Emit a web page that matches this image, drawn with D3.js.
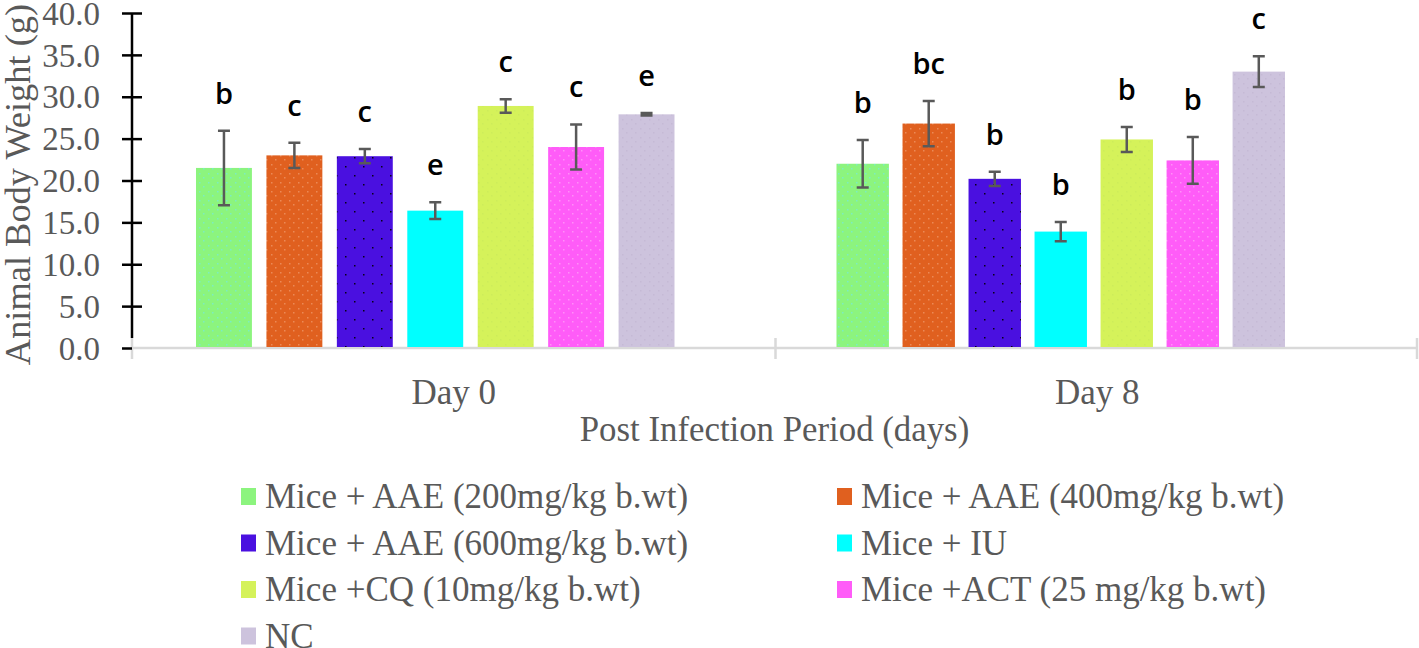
<!DOCTYPE html>
<html>
<head>
<meta charset="utf-8">
<script src="https://cdn.jsdelivr.net/npm/d3@7"></script>
<style>
  body { margin: 0; background: #fff; }
  svg { display: block; }
</style>
</head>
<body>
<div id="chart"></div>
<script>
// data
const days = ["Day 0", "Day 8"];
const groups = [
  "Mice + AAE (200mg/kg b.wt)",
  "Mice + AAE (400mg/kg b.wt)",
  "Mice + AAE (600mg/kg b.wt)",
  "Mice + IU",
  "Mice +CQ (10mg/kg b.wt)",
  "Mice +ACT (25 mg/kg b.wt)",
  "NC"
];
const colors = ["#8cf47e", "#e0601f", "#4a10e0", "#00ffff", "#d5f25a", "#ff5cf8", "#cdc3dd"];
const dotColors = ["#6fe8f0", "#f3a57a", "#000000", null, "#c8e85a", "#ffb0f8", "#bfb4d0"];
const day0 = [21.5, 23.0, 22.9, 16.4, 28.9, 24.0, 27.9];
const err0 = [4.45, 1.5, 0.85, 1.0, 0.8, 2.7, 0.15];
const sig0 = ["b", "c", "c", "e", "c", "c", "e"];
const day8 = [22.0, 26.8, 20.2, 13.9, 24.9, 22.4, 33.0];
const err8 = [2.85, 2.7, 0.85, 1.15, 1.5, 2.8, 1.85];
const sig8 = ["b", "bc", "b", "b", "b", "b", "c"];
const yTicks = [0, 5, 10, 15, 20, 25, 30, 35, 40];

const width = 1419, height = 648;
const serif = "'Liberation Serif', 'Times New Roman', serif";
const grey = "#595959";

const rows = [];
days.forEach((day, di) => {
  const vals = di === 0 ? day0 : day8;
  const errs = di === 0 ? err0 : err8;
  const sigs = di === 0 ? sig0 : sig8;
  groups.forEach((g, gi) => {
    rows.push({ day, di, group: g, gi, value: vals[gi], err: errs[gi], sig: sigs[gi] });
  });
});

const svg = d3.select("#chart").append("svg")
  .attr("width", width)
  .attr("height", height);

// dotted fills like the source bars
const defs = svg.append("defs");
colors.forEach((c, i) => {
  const sparse = i === 2;
  const size = sparse ? 18 : 9;
  const p = defs.append("pattern")
    .attr("id", "fill" + i)
    .attr("patternUnits", "userSpaceOnUse")
    .attr("width", size).attr("height", size);
  p.append("rect").attr("width", size).attr("height", size).attr("fill", c);
  if (dotColors[i]) {
    const pts = sparse ? [[3, 4], [12, 13]] : [[1, 2], [5, 6]];
    pts.forEach(([px, py]) => {
      p.append("rect")
        .attr("x", px).attr("y", py)
        .attr("width", 1.5).attr("height", 1.5)
        .attr("fill", dotColors[i])
        .attr("opacity", sparse ? 0.9 : 0.6);
    });
  }
});

const plotLeft = 132, plotRight = 1419, plotTop = 13, plotBottom = 348;

const y = d3.scaleLinear().domain([0, 40]).range([plotBottom, plotTop]);
const x0 = d3.scaleBand().domain(days).range([plotLeft, plotRight]);

// each day's bar group sits a little left of centre, as in the source
const groupInset = { "Day 0": [64, 101], "Day 8": [61, 134] };
const x1 = {};
days.forEach((d) => {
  const start = x0(d) + groupInset[d][0];
  const end = x0(d) + x0.bandwidth() - groupInset[d][1];
  x1[d] = d3.scaleBand().domain(groups).range([start, end]).paddingInner(0.206);
});

// x axis line + boundary ticks
const xAxis = svg.append("g");
xAxis.append("line")
  .attr("x1", plotLeft).attr("x2", plotRight - 1)
  .attr("y1", plotBottom).attr("y2", plotBottom)
  .attr("stroke", "#d9d9d9").attr("stroke-width", 2.5);
const bounds = days.map((d) => x0(d)).concat([plotRight - 2]);
xAxis.selectAll("line.bound")
  .data(bounds)
  .join("line")
  .attr("class", "bound")
  .attr("x1", (d) => d).attr("x2", (d) => d)
  .attr("y1", plotBottom - 10).attr("y2", plotBottom + 11)
  .attr("stroke", "#d9d9d9").attr("stroke-width", 2.5);

xAxis.selectAll("text.day")
  .data(days)
  .join("text")
  .attr("class", "day")
  .attr("x", (d) => x0(d) + x0.bandwidth() / 2)
  .attr("y", 404)
  .attr("text-anchor", "middle")
  .attr("font-family", serif)
  .attr("font-size", 35)
  .attr("fill", grey)
  .text((d) => d);

svg.append("text")
  .attr("x", (plotLeft + plotRight) / 2 - 1)
  .attr("y", 441)
  .attr("text-anchor", "middle")
  .attr("font-family", serif)
  .attr("font-size", 34.8)
  .attr("fill", grey)
  .text("Post Infection Period (days)");

// y axis
const yAxis = svg.append("g")
  .attr("transform", `translate(${plotLeft},0)`)
  .call(d3.axisLeft(y).tickValues(yTicks).tickFormat(d3.format(".1f")).tickSize(10).tickSizeOuter(0));
yAxis.select(".domain")
  .attr("stroke", "#000").attr("stroke-width", 2.5)
  .attr("d", `M0,${plotTop}V${plotBottom - 10}`);
yAxis.selectAll(".tick line")
  .attr("stroke", "#000").attr("stroke-width", 2.5)
  .attr("x1", (d) => (d === 0 ? 0 : 10));
yAxis.selectAll(".tick text")
  .attr("font-family", serif)
  .attr("font-size", 33)
  .attr("fill", grey)
  .attr("x", -32)
  .attr("dy", "0.34em");

svg.append("text")
  .attr("transform", `translate(30,${(plotTop + plotBottom) / 2 + 4}) rotate(-90)`)
  .attr("text-anchor", "middle")
  .attr("font-family", serif)
  .attr("font-size", 36.4)
  .attr("fill", grey)
  .text("Animal Body Weight (g)");

// bars
const barG = svg.append("g");
barG.selectAll("rect")
  .data(rows)
  .join("rect")
  .attr("x", (d) => x1[d.day](d.group))
  .attr("width", (d) => x1[d.day].bandwidth())
  .attr("y", (d) => y(d.value))
  .attr("height", (d) => y(0) - y(d.value) - 1)
  .attr("fill", (d) => `url(#fill${d.gi})`);

// error bars
const errG = svg.append("g")
  .attr("stroke", grey)
  .attr("stroke-width", 2.5)
  .attr("fill", "none");
const cx = (d) => x1[d.day](d.group) + x1[d.day].bandwidth() / 2;
errG.selectAll("path")
  .data(rows)
  .join("path")
  .attr("d", (d) => {
    const t = y(d.value + d.err), b = y(d.value - d.err), c = cx(d);
    return `M${c - 6},${t}H${c + 6}M${c},${t}V${b}M${c - 6},${b}H${c + 6}`;
  });

// significance letters
svg.append("g").selectAll("text")
  .data(rows)
  .join("text")
  .attr("x", cx)
  .attr("y", (d) => y(d.value + d.err) - 27)
  .attr("text-anchor", "middle")
  .attr("font-family", "'Open Sans', 'Noto Sans', sans-serif")
  .attr("font-weight", 600)
  .attr("font-size", 29)
  .attr("fill", "#000")
  .text((d) => d.sig);

// legend
const legend = svg.append("g");
const item = legend.selectAll("g")
  .data(groups)
  .join("g")
  .attr("transform", (d, i) => `translate(${i % 2 === 0 ? 241 : 837},${497 + Math.floor(i / 2) * 46.5})`);
item.append("rect")
  .attr("x", 0).attr("y", -9)
  .attr("width", 15).attr("height", 17)
  .attr("fill", (d, i) => colors[i]);
item.append("text")
  .attr("x", 24)
  .attr("y", 11)
  .attr("font-family", serif)
  .attr("font-size", 35)
  .attr("fill", grey)
  .text((d) => d);
</script>
</body>
</html>
